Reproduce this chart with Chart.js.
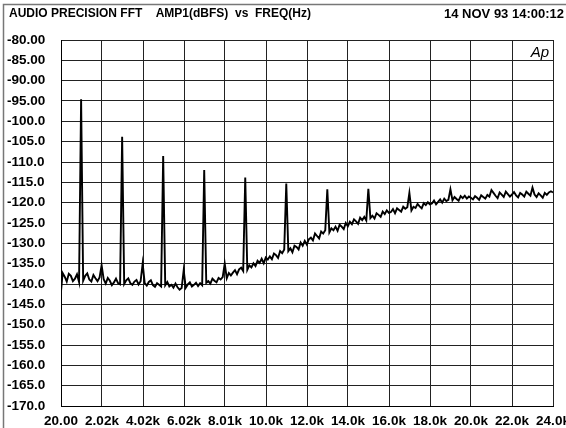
<!DOCTYPE html>
<html>
<head>
<meta charset="utf-8">
<script src="https://cdn.jsdelivr.net/npm/chart.js@4.4.1/dist/chart.umd.min.js"></script>
<style>
  html, body { margin: 0; padding: 0; background: #fff; }
  #wrap { width: 566px; height: 428px; }
</style>
</head>
<body>
<div id="wrap"><canvas id="fftChart"></canvas></div>
<script>
const titleText = "AUDIO PRECISION FFT    AMP1(dBFS)  vs  FREQ(Hz)";
const dateText = "14 NOV 93 14:00:12";

// frequency bins (Hz)
const freqs = [20,
  100, 200, 300, 400, 500, 600, 700, 800, 900, 1000,
  1100, 1200, 1300, 1400, 1500, 1600, 1700, 1800, 1900, 2000,
  2100, 2200, 2300, 2400, 2500, 2600, 2700, 2800, 2900, 3000,
  3100, 3200, 3300, 3400, 3500, 3600, 3700, 3800, 3900, 4000,
  4100, 4200, 4300, 4400, 4500, 4600, 4700, 4800, 4900, 5000,
  5100, 5200, 5300, 5400, 5500, 5600, 5700, 5800, 5900, 6000,
  6100, 6200, 6300, 6400, 6500, 6600, 6700, 6800, 6900, 7000,
  7100, 7200, 7300, 7400, 7500, 7600, 7700, 7800, 7900, 8000,
  8100, 8200, 8300, 8400, 8500, 8600, 8700, 8800, 8900, 9000,
  9100, 9200, 9300, 9400, 9500, 9600, 9700, 9800, 9900, 10000,
  10100, 10200, 10300, 10400, 10500, 10600, 10700, 10800, 10900, 11000,
  11100, 11200, 11300, 11400, 11500, 11600, 11700, 11800, 11900, 12000,
  12100, 12200, 12300, 12400, 12500, 12600, 12700, 12800, 12900, 13000,
  13100, 13200, 13300, 13400, 13500, 13600, 13700, 13800, 13900, 14000,
  14100, 14200, 14300, 14400, 14500, 14600, 14700, 14800, 14900, 15000,
  15100, 15200, 15300, 15400, 15500, 15600, 15700, 15800, 15900, 16000,
  16100, 16200, 16300, 16400, 16500, 16600, 16700, 16800, 16900, 17000,
  17100, 17200, 17300, 17400, 17500, 17600, 17700, 17800, 17900, 18000,
  18100, 18200, 18300, 18400, 18500, 18600, 18700, 18800, 18900, 19000,
  19100, 19200, 19300, 19400, 19500, 19600, 19700, 19800, 19900, 20000,
  20100, 20200, 20300, 20400, 20500, 20600, 20700, 20800, 20900, 21000,
  21100, 21200, 21300, 21400, 21500, 21600, 21700, 21800, 21900, 22000,
  22100, 22200, 22300, 22400, 22500, 22600, 22700, 22800, 22900, 23000,
  23100, 23200, 23300, 23400, 23500, 23600, 23700, 23800, 23900, 24000];

// amplitude (dBFS)
const ampDb = [-141.8,
  -137.3, -138.2, -139.4, -137.5, -138.0, -139.3, -138.7, -137.6, -139.5, -94.6,
  -139.2, -138.0, -137.4, -138.9, -139.4, -137.8, -138.6, -139.3, -138.4, -135.4,
  -138.8, -139.9, -138.5, -139.2, -140.3, -139.6, -138.7, -139.8, -140.1, -103.8,
  -140.0, -139.1, -138.6, -139.8, -140.2, -139.4, -139.0, -140.1, -139.3, -135.0,
  -139.8, -140.4, -139.5, -139.1, -140.3, -140.7, -139.8, -140.2, -140.6, -108.5,
  -140.3, -139.5, -140.6, -140.2, -140.9, -139.9, -140.8, -141.4, -141.0, -136.6,
  -140.9, -140.1, -139.6, -140.6, -140.2, -139.7, -140.5, -139.8, -140.3, -112.0,
  -139.7, -139.3, -139.9, -138.7, -139.2, -139.6, -138.5, -138.9, -138.3, -135.0,
  -138.6, -137.3, -137.9, -137.2, -136.6, -137.6, -136.4, -136.0, -136.8, -113.8,
  -136.5, -135.4, -135.9, -134.9, -135.6, -134.3, -134.8, -133.8, -134.9, -133.5,
  -134.0, -133.2, -133.9, -132.5, -132.9, -133.6, -131.9, -132.4, -131.5, -115.3,
  -131.9, -131.2, -132.2, -130.6, -130.9, -131.5, -129.8, -130.6, -129.4, -130.3,
  -129.0, -128.6, -129.3, -127.6, -128.2, -128.8, -127.1, -127.6, -126.8, -116.7,
  -127.3, -126.3, -126.8, -125.9, -126.9, -125.4, -125.9, -126.5, -125.0, -125.8,
  -124.7, -125.3, -124.1, -124.6, -125.2, -123.7, -124.3, -123.5, -124.4, -116.6,
  -123.8, -123.2, -123.9, -122.6, -123.0, -123.5, -122.2, -122.8, -121.9, -122.5,
  -122.3, -121.6, -122.6, -121.4, -121.8, -122.2, -121.0, -121.5, -121.1, -117.6,
  -121.9, -121.0, -121.3, -120.3, -120.9, -121.4, -120.1, -120.6, -119.9, -120.4,
  -120.2, -119.5, -120.4, -119.8, -119.2, -120.0, -119.0, -119.6, -119.3, -116.7,
  -119.4, -118.6, -119.1, -119.5, -118.4, -118.9, -118.3, -119.0, -118.5, -118.8,
  -119.2, -118.4, -118.8, -119.3, -118.2, -118.6, -119.0, -118.1, -118.5, -116.9,
  -117.6, -118.3, -118.9, -117.5, -118.0, -118.6, -117.3, -117.9, -118.5, -118.0,
  -117.4, -118.2, -118.7, -117.6, -118.0, -118.5, -117.3, -117.8, -118.3, -116.3,
  -118.0, -118.6, -117.7, -118.2, -118.8, -117.6, -118.1, -117.5, -117.2, -117.5];

const xTickValues = [20, 2018.33, 4016.67, 6015, 8013.33, 10011.67, 12010,
  14008.33, 16006.67, 18005, 20003.33, 22001.67, 24000];
const xTickLabels = ["20.00", "2.02k", "4.02k", "6.02k", "8.01k", "10.0k", "12.0k",
  "14.0k", "16.0k", "18.0k", "20.0k", "22.0k", "24.0k"];
const yTickValues = [-80, -85, -90, -95, -100, -105, -110, -115, -120, -125,
  -130, -135, -140, -145, -150, -155, -160, -165, -170];
const yTickLabels = ["-80.00", "-85.00", "-90.00", "-95.00", "-100.0", "-105.0", "-110.0",
  "-115.0", "-120.0", "-125.0", "-130.0", "-135.0", "-140.0", "-145.0", "-150.0",
  "-155.0", "-160.0", "-165.0", "-170.0"];

const labelFont = { family: "'Liberation Sans', Arial, sans-serif", size: 13.5, weight: "bold" };

const decorPlugin = {
  id: "decor",
  beforeDraw(chart) {
    const ctx = chart.ctx;
    ctx.save();
    ctx.fillStyle = "#fff";
    ctx.fillRect(0, 0, chart.width, chart.height);
    ctx.restore();
  },
  afterDraw(chart) {
    const ctx = chart.ctx;
    const area = chart.chartArea;
    ctx.save();
    // outer frame (top + left)
    ctx.strokeStyle = "#777";
    ctx.lineWidth = 1.5;
    ctx.beginPath();
    ctx.moveTo(3.5, chart.height);
    ctx.lineTo(3.5, 4.5);
    ctx.lineTo(chart.width, 4.5);
    ctx.stroke();

    ctx.fillStyle = "#000";
    ctx.textBaseline = "middle";
    ctx.textAlign = "left";
    ctx.font = "bold 12px 'Liberation Sans', Arial, sans-serif";
    ctx.fillText(titleText, 9, 14);
    ctx.textAlign = "right";
    ctx.font = "bold 13px 'Liberation Sans', Arial, sans-serif";
    ctx.fillText(dateText, 564, 14);

    ctx.font = "italic 15px 'Liberation Sans', Arial, sans-serif";
    ctx.fillText("Ap", area.right - 4, area.top + 13);
    ctx.restore();
  }
};

const ctx = document.getElementById("fftChart").getContext("2d");
new Chart(ctx, {
  type: "line",
  data: {
    datasets: [{
      label: "AMP1(dBFS)",
      data: freqs.map((f, i) => ({ x: f, y: ampDb[i] })),
      borderColor: "#000",
      borderWidth: 1.9,
      pointRadius: 0,
      tension: 0,
      fill: false
    }]
  },
  options: {
    responsive: true,
    maintainAspectRatio: false,
    animation: false,
    layout: { padding: { left: 7, right: 13, top: 40, bottom: 0 } },
    plugins: { legend: { display: false }, tooltip: { enabled: false } },
    scales: {
      x: {
        type: "linear",
        min: 20,
        max: 24000,
        afterBuildTicks: scale => { scale.ticks = xTickValues.map(v => ({ value: v })); },
        afterFit: scale => { scale.height = 22; scale.paddingLeft = 0; scale.paddingRight = 0; },
        ticks: {
          autoSkip: false,
          maxRotation: 0,
          padding: 7,
          color: "#000",
          font: labelFont,
          callback: (v, i) => xTickLabels[i]
        },
        grid: { color: "#222", lineWidth: 1, drawTicks: false },
        border: { color: "#000", width: 1 }
      },
      y: {
        min: -170,
        max: -80,
        afterBuildTicks: scale => { scale.ticks = yTickValues.map(v => ({ value: v })); },
        afterFit: scale => { scale.width = 54; scale.paddingTop = 0; scale.paddingBottom = 0; },
        ticks: {
          crossAlign: "far",
          color: "#000",
          font: labelFont,
          callback: (v, i) => yTickLabels[i]
        },
        grid: { color: "#222", lineWidth: 1, drawTicks: false },
        border: { color: "#000", width: 1 }
      }
    }
  },
  plugins: [decorPlugin]
});
</script>
</body>
</html>
